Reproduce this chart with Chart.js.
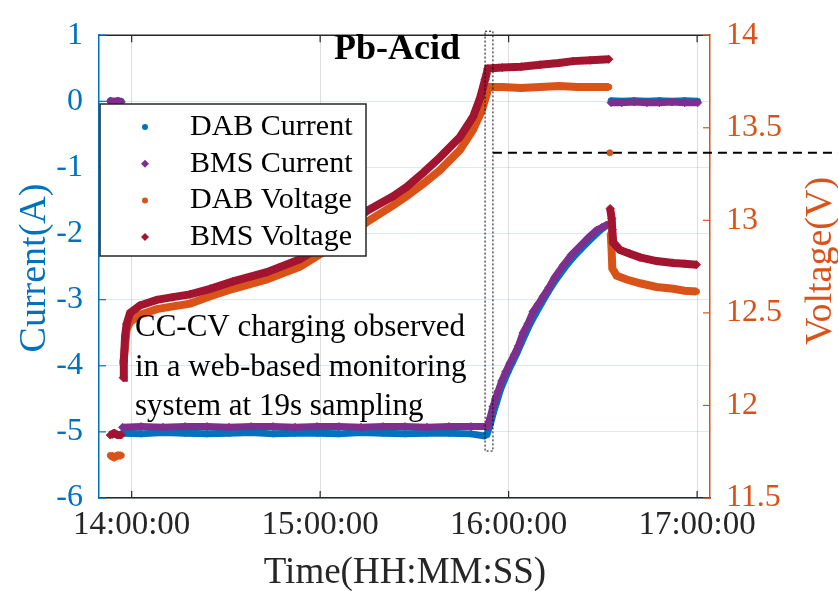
<!DOCTYPE html>
<html>
<head>
<meta charset="utf-8">
<script src="https://cdn.jsdelivr.net/npm/chart.js@4/dist/chart.umd.min.js"></script>
<style>
  html, body { margin: 0; padding: 0; background: #fff; }
  canvas { display: block; }
</style>
</head>
<body>
<canvas id="batteryChart" width="838" height="591"></canvas>
<script>
// time axis: minutes after 14:00:00
const hourTicks = [0, 60, 120, 180];
const hourLabels = ['14:00:00', '15:00:00', '16:00:00', '17:00:00'];

const dabCurrentTime = [-6.8, -5.6, -4.4, -3.3,
  -2.9, 3, 10, 17, 24, 31, 38, 45, 52, 59, 66, 73, 80, 87, 94, 101, 108, 112.2, 113.1,
  114.2, 115.2, 116.2, 117.4, 118.6, 119.9, 121.2, 122.6, 124.0, 125.5, 127.0, 128.6, 130.4,
  132.6, 135.0, 137.6, 140.3, 142.9, 145.6, 148.2, 150.2, 151.6,
  152.6, 156, 160, 164, 168, 172, 176, 180.2];
const dabCurrent = [0.01, 0, 0.01, 0,
  -5.02, -5.03, -5.01, -5.02, -5.03, -5.02, -5.01, -5.03, -5.02, -5.02, -5.03, -5.01, -5.02, -5.03, -5.02, -5.02, -5.03, -5.06, -5.04,
  -4.88, -4.70, -4.55, -4.36, -4.22, -4.08, -3.95, -3.81, -3.66, -3.50, -3.35, -3.21, -3.06,
  -2.88, -2.70, -2.53, -2.37, -2.24, -2.11, -1.99, -1.91, -1.86,
  0.01, 0.0, 0.01, 0.0, 0.01, 0.0, 0.01, 0.0];

const bmsCurrentTime = [-6.8, -5.6, -4.4, -3.3,
  -2.9, 3, 10, 17, 24, 31, 38, 45, 52, 59, 66, 73, 80, 87, 94, 101, 108, 113.3,
  114.0, 115.0, 115.8, 116.7, 117.8, 119.1, 120.4, 121.8, 123.1, 124.6, 126.2, 127.8, 129.4,
  131.0, 132.8, 134.7, 137.4, 140.0, 142.7, 145.4, 148.0, 149.6, 151.2,
  152.6, 156, 160, 164, 168, 172, 176, 180.2];
const bmsCurrent = [0, -0.01, 0, -0.01,
  -4.93, -4.92, -4.93, -4.92, -4.92, -4.93, -4.92, -4.92, -4.93, -4.92, -4.92, -4.93, -4.92, -4.92, -4.93, -4.92, -4.92, -4.92,
  -4.80, -4.62, -4.50, -4.38, -4.23, -4.09, -3.96, -3.83, -3.70, -3.50, -3.36, -3.18, -3.07,
  -2.95, -2.82, -2.66, -2.48, -2.32, -2.19, -2.06, -1.95, -1.91, -1.87,
  -0.02, -0.02, -0.01, -0.02, -0.02, -0.01, -0.02, -0.02];

const dabVoltageTime = [-6.8, -5.6, -4.4, -3.3, -2.7, -2.1, -1.6, -0.5,
  2.6, 8.0, 13.1, 18.6, 25, 32.3, 43.0, 53.6, 64.1, 74.8, 83.2, 87.5, 93.0, 98.1, 104.5, 108.7, 111.4, 113.0, 113.6,
  118, 124, 130, 136, 142, 148, 151.9,
  152.2,
  152.5, 152.8, 153.0, 154.4, 157.6, 161.8, 167.1, 172.4, 176, 179.8];
const dabVoltage = [11.73, 11.72, 11.73, 11.73, 12.22, 12.32, 12.41, 12.45,
  12.49, 12.52, 12.535, 12.55, 12.59, 12.63, 12.68, 12.75, 12.86, 12.99, 13.08, 13.13, 13.20, 13.27, 13.38, 13.49, 13.59, 13.68, 13.72,
  13.72, 13.715, 13.72, 13.725, 13.72, 13.72, 13.72,
  13.365,
  12.93, 12.83, 12.74, 12.70, 12.68, 12.66, 12.64, 12.63, 12.62, 12.615];

const bmsVoltageTime = [-6.8, -5.6, -4.4, -3.3, -2.7, -2.5, -2.1, -1.6, -0.5,
  2.6, 8.0, 13.1, 18.6, 25, 32.3, 43.0, 53.6, 64.1, 74.8, 83.2, 87.5, 93.0, 98.1, 104.5, 108.7, 110.9, 112.5, 113.4,
  118, 124, 130, 136, 140.5, 146, 151.9,
  152.3,
  152.8, 153.0, 153.3, 155.4, 158.6, 161.8, 167.1, 172.4, 176, 179.8];
const bmsVoltage = [11.84, 11.85, 11.84, 11.84, 12.15, 12.24, 12.375, 12.44, 12.50,
  12.54, 12.57, 12.585, 12.60, 12.63, 12.67, 12.72, 12.79, 12.90, 13.05, 13.13, 13.18, 13.26, 13.34, 13.45, 13.56, 13.66, 13.76, 13.82,
  13.825, 13.83, 13.84, 13.85, 13.86, 13.865, 13.87,
  13.064,
  13.01, 12.95, 12.88, 12.84, 12.82, 12.80, 12.78, 12.77, 12.765, 12.76];

const seriesNames = ['DAB Current', 'BMS Current', 'DAB Voltage', 'BMS Voltage'];
const noteLines = ['CC-CV charging observed', 'in a web-based monitoring', 'system at 19s sampling'];

const BLUE = '#0072BD', PURPLE = '#7E2F8E', ORANGE = '#D95319', WINE = '#A2142F';
const INK = '#262626';
const SERIF = '"Liberation Serif", "Times New Roman", serif';

const toPoints = (t, v) => t.map((x, i) => ({ x, y: v[i] }));

// sampled markers joined into a band; big steps between samples are left open
function series(label, t, v, color, style, axis, width, jump, order) {
  return {
    label,
    data: toPoints(t, v),
    yAxisID: axis,
    order,
    borderColor: color,
    backgroundColor: color,
    borderWidth: width,
    pointStyle: style,
    pointRadius: style === 'circle' ? 3 : 4,
    pointBorderWidth: 1,
    tension: 0,
    segment: {
      borderColor: ctx => Math.abs(ctx.p1.parsed.y - ctx.p0.parsed.y) > jump ? 'transparent' : undefined
    }
  };
}

function drawMarker(ctx, style, color, x, y) {
  ctx.fillStyle = color;
  ctx.beginPath();
  if (style === 'circle') {
    ctx.arc(x, y, 3, 0, Math.PI * 2);
  } else {
    ctx.moveTo(x, y - 4); ctx.lineTo(x + 4, y); ctx.lineTo(x, y + 4); ctx.lineTo(x - 4, y); ctx.closePath();
  }
  ctx.fill();
}

const figureExtras = {
  id: 'figureExtras',
  afterDraw(chart) {
    const { ctx, chartArea: a } = chart;
    const { x, current, voltage } = chart.scales;
    const seg = (x0, y0, x1, y1) => { ctx.beginPath(); ctx.moveTo(x0, y0); ctx.lineTo(x1, y1); ctx.stroke(); };
    ctx.save();

    // top frame and inward ticks
    ctx.strokeStyle = INK; ctx.lineWidth = 1.5;
    seg(a.left, a.top, a.right, a.top);
    ctx.lineWidth = 1.2;
    hourTicks.forEach(v => {
      const px = x.getPixelForValue(v);
      seg(px, a.bottom, px, a.bottom - 7);
      seg(px, a.top, px, a.top + 7);
    });
    ctx.strokeStyle = BLUE;
    current.ticks.forEach(t => { const py = current.getPixelForValue(t.value); seg(a.left, py, a.left + 7, py); });
    ctx.strokeStyle = ORANGE;
    voltage.ticks.forEach(t => { const py = voltage.getPixelForValue(t.value); seg(a.right, py, a.right - 7, py); });

    // legend
    ctx.fillStyle = '#fff'; ctx.strokeStyle = INK; ctx.lineWidth = 1.5;
    ctx.fillRect(100, 104, 266, 152);
    ctx.strokeRect(100, 104, 266, 152);
    ctx.font = '30px ' + SERIF; ctx.textBaseline = 'middle'; ctx.textAlign = 'left';
    chart.data.datasets.forEach((ds, i) => {
      const ry = 127 + i * 36.7;
      drawMarker(ctx, ds.pointStyle, ds.borderColor, 145, ry);
      ctx.fillStyle = '#000';
      ctx.fillText(seriesNames[i], 190, ry);
    });

    // labels
    ctx.fillStyle = '#000';
    ctx.font = 'bold 36px ' + SERIF; ctx.textAlign = 'center';
    ctx.fillText('Pb-Acid', 397, 50);
    ctx.font = '31px ' + SERIF; ctx.textAlign = 'left';
    noteLines.forEach((line, i) => ctx.fillText(line, 135, 328 + i * 39.5));

    // CC to CV transition window
    ctx.strokeStyle = '#000'; ctx.lineWidth = 1; ctx.setLineDash([2, 2]);
    const wx0 = x.getPixelForValue(112.5), wx1 = x.getPixelForValue(115.0);
    const wy0 = current.getPixelForValue(1.06), wy1 = current.getPixelForValue(-5.29);
    ctx.strokeRect(wx0, wy0, wx1 - wx0, wy1 - wy0);

    // CV level marker
    ctx.setLineDash([9, 6]); ctx.lineWidth = 2.2;
    const cvY = voltage.getPixelForValue(13.365);
    seg(wx1, cvY, chart.width, cvY);
    ctx.setLineDash([]);

    // axis titles
    ctx.font = '37px ' + SERIF; ctx.textAlign = 'center'; ctx.textBaseline = 'middle';
    ctx.fillStyle = INK;
    ctx.fillText('Time(HH:MM:SS)', 405, 573);
    ctx.font = '38px ' + SERIF;
    ctx.save(); ctx.translate(35, 268); ctx.rotate(-Math.PI / 2);
    ctx.fillStyle = BLUE; ctx.fillText('Current(A)', 0, 0); ctx.restore();
    ctx.save(); ctx.translate(821, 261); ctx.rotate(-Math.PI / 2);
    ctx.fillStyle = ORANGE; ctx.fillText('Voltage(V)', 0, 0); ctx.restore();

    ctx.restore();
  }
};

new Chart(document.getElementById('batteryChart'), {
  type: 'line',
  data: {
    datasets: [
      series(seriesNames[0], dabCurrentTime, dabCurrent, BLUE, 'circle', 'current', 7, 0.5, 4),
      series(seriesNames[1], bmsCurrentTime, bmsCurrent, PURPLE, 'rectRot', 'current', 7, 0.5, 3),
      series(seriesNames[2], dabVoltageTime, dabVoltage, ORANGE, 'circle', 'voltage', 8, 0.25, 2),
      series(seriesNames[3], bmsVoltageTime, bmsVoltage, WINE, 'rectRot', 'voltage', 8, 0.25, 1)
    ]
  },
  options: {
    responsive: false,
    animation: false,
    devicePixelRatio: 1,
    layout: { padding: { top: 18, left: 0, right: 0, bottom: 0 } },
    plugins: { legend: { display: false }, tooltip: { enabled: false } },
    scales: {
      x: {
        type: 'linear',
        position: 'bottom',
        min: -10.4,
        max: 184.1,
        afterBuildTicks: s => { s.ticks = hourTicks.map(value => ({ value })); },
        afterFit: s => { s.height = 93; },
        ticks: {
          autoSkip: false, maxRotation: 0, padding: 8, color: INK,
          font: { family: SERIF, size: 33 },
          callback: v => hourLabels[hourTicks.indexOf(v)]
        },
        grid: { color: 'rgba(0,0,0,0.13)', drawTicks: false },
        border: { color: INK, width: 1.5 }
      },
      current: {
        type: 'linear',
        position: 'left',
        min: -6,
        max: 1,
        afterFit: s => { s.width = 99; },
        ticks: { stepSize: 1, padding: 16, color: BLUE, font: { family: SERIF, size: 32 } },
        grid: { color: 'rgba(0,114,189,0.15)', drawTicks: false },
        border: { color: BLUE, width: 1.5 }
      },
      voltage: {
        type: 'linear',
        position: 'right',
        min: 11.5,
        max: 14,
        afterFit: s => { s.width = 128; },
        ticks: {
          stepSize: 0.5, padding: 16, color: ORANGE, font: { family: SERIF, size: 32 },
          callback: v => String(v)
        },
        grid: { drawOnChartArea: false, drawTicks: false },
        border: { color: ORANGE, width: 1.5 }
      }
    }
  },
  plugins: [figureExtras]
});
</script>
</body>
</html>
